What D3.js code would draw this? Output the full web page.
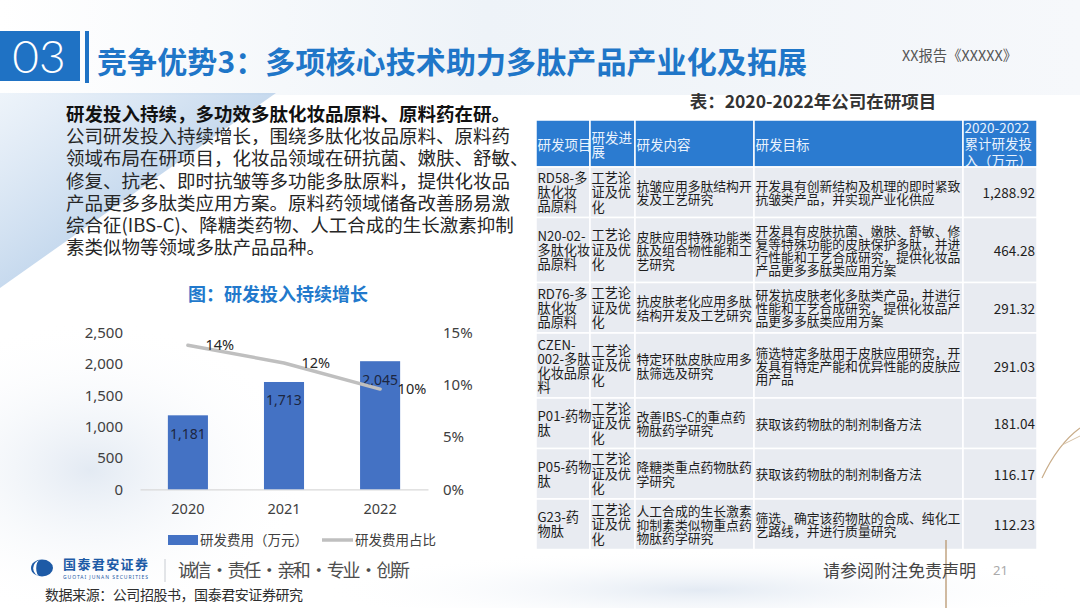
<!DOCTYPE html>
<html><head><meta charset="utf-8">
<script src="https://cdn.jsdelivr.net/npm/d3@7"></script>
<style>
html,body{margin:0;padding:0;background:#fff;}
svg{display:block;font-family:"Noto Sans CJK SC","Noto Sans",sans-serif;}
.cell{display:flex;align-items:center;width:100%;height:100%;box-sizing:border-box;white-space:pre;font-family:"Noto Sans CJK SC","Noto Sans",sans-serif;}
.para{font-family:"Noto Sans CJK SC","Noto Sans",sans-serif;white-space:pre;color:#262626;}
.para::first-line{font-weight:bold;color:#111;}
</style></head><body>
<svg id="c" width="1080" height="608"></svg>
<script>
// ---------- data ----------
const years = ["2020", "2021", "2022"];
const rdExpense = [1181, 1713, 2045];          // 研发费用（万元）
const rdRatio = [0.138, 0.121, 0.096];          // 研发费用占比
const leftTicks = [0, 500, 1000, 1500, 2000, 2500];
const rightTicks = [0, 0.05, 0.10, 0.15];
const legendLabels = ["研发费用（万元）", "研发费用占比"];

const tableHeader = ["研发项目", "研发进\n展", "研发内容", "研发目标", "2020-2022\n累计研发投\n入（万元）"];
const projects = ["RD58-多\n肽化妆\n品原料", "N20-02-\n多肽化妆\n品原料", "RD76-多\n肽化妆\n品原料", "CZEN-\n002-多肽\n化妆品原\n料", "P01-药物\n肽", "P05-药物\n肽", "G23-药\n物肽"];
const progress = ["工艺论\n证及优\n化", "工艺论\n证及优\n化", "工艺论\n证及优\n化", "工艺论\n证及优\n化", "工艺论\n证及优\n化", "工艺论\n证及优\n化", "工艺论\n证及优\n化"];
const contents = ["抗皱应用多肽结构开\n发及工艺研究", "皮肤应用特殊功能类\n肽及组合物性能和工\n艺研究", "抗皮肤老化应用多肽\n结构开发及工艺研究", "特定环肽皮肤应用多\n肽筛选及研究", "改善IBS-C的重点药\n物肽药学研究", "降糖类重点药物肽药\n学研究", "人工合成的生长激素\n抑制素类似物重点药\n物肽药学研究"];
const goals = ["开发具有创新结构及机理的即时紧致\n抗皱类产品，并实现产业化供应", "开发具有皮肤抗菌、嫩肤、舒敏、修\n复等特殊功能的皮肤保护多肽，并进\n行性能和工艺合成研究，提供化妆品\n产品更多多肽类应用方案", "研发抗皮肤老化多肽类产品，并进行\n性能和工艺合成研究，提供化妆品产\n品更多多肽类应用方案", "筛选特定多肽用于皮肤应用研究，开\n发具有特定产能和优异性能的皮肤应\n用产品", "获取该药物肽的制剂制备方法", "获取该药物肽的制剂制备方法", "筛选、确定该药物肽的合成、纯化工\n艺路线，并进行质量研究"];
const investments = [1288.92, 464.28, 291.32, 291.03, 181.04, 116.17, 112.23];

const paragraphBold = "研发投入持续，多功效多肽化妆品原料、原料药在研。";
const paragraphBody = "公司研发投入持续增长，围绕多肽化妆品原料、原料药\n领域布局在研项目，化妆品领域在研抗菌、嫩肤、舒敏、\n修复、抗老、即时抗皱等多功能多肽原料，提供化妆品\n产品更多多肽类应用方案。原料药领域储备改善肠易激\n综合征(IBS-C)、降糖类药物、人工合成的生长激素抑制\n素类似物等领域多肽产品品种。";

// ---------- drawing ----------
const svg = d3.select("#c");
const defs = svg.append("defs");

const g1 = defs.append("linearGradient").attr("id", "hdr").attr("x1", 0).attr("y1", 0).attr("x2", 1).attr("y2", 0);
g1.append("stop").attr("offset", "0%").attr("stop-color", "#ffffff");
g1.append("stop").attr("offset", "45%").attr("stop-color", "#eef3f8");
g1.append("stop").attr("offset", "100%").attr("stop-color", "#f6f8fb");

const g2 = defs.append("linearGradient").attr("id", "diag").attr("x1", 0).attr("y1", 0).attr("x2", 1).attr("y2", 1);
g2.append("stop").attr("offset", "0%").attr("stop-color", "#dce8f5").attr("stop-opacity", 0.5);
g2.append("stop").attr("offset", "100%").attr("stop-color", "#6f9fd3").attr("stop-opacity", 0.75);

const g3 = defs.append("radialGradient").attr("id", "haze").attr("cx", 0.5).attr("cy", 0.5).attr("r", 0.5);
g3.append("stop").attr("offset", "0%").attr("stop-color", "#e3eaf3");
g3.append("stop").attr("offset", "100%").attr("stop-color", "#ffffff").attr("stop-opacity", 0);

svg.append("rect").attr("width", 1080).attr("height", 608).attr("fill", "#ffffff");
svg.append("rect").attr("width", 1080).attr("height", 95).attr("fill", "url(#hdr)");
svg.append("ellipse").attr("cx", 90).attr("cy", 470).attr("rx", 220).attr("ry", 150).attr("fill", "url(#haze)");
svg.append("ellipse").attr("cx", 700).attr("cy", 590).attr("rx", 380).attr("ry", 40).attr("fill", "url(#haze)");
svg.append("polygon").attr("points", "0,93 276,93 0,288").attr("fill", "url(#diag)");

// header
svg.append("rect").attr("x", 0).attr("y", 31).attr("width", 80).attr("height", 50).attr("fill", "#1f72c4");
svg.append("text").attr("x", 39).attr("y", 56).attr("dy", "0.36em").attr("text-anchor", "middle")
  .attr("font-family", "Lato, 'Noto Sans', sans-serif").attr("font-weight", 300).attr("font-size", 46).attr("fill", "#fff").text("03");
svg.append("rect").attr("x", 85).attr("y", 31).attr("width", 4).attr("height", 52).attr("fill", "#1f72c4");
svg.append("text").attr("x", 97).attr("y", 62).attr("dy", "0.36em").attr("font-size", 30).attr("font-weight", "bold")
  .attr("fill", "#1f76c8").attr("textLength", 710).attr("lengthAdjust", "spacing").text("竞争优势3：多项核心技术助力多肽产品产业化及拓展");
svg.append("text").attr("x", 902).attr("y", 56).attr("dy", "0.35em").attr("font-size", 14.5).attr("fill", "#555")
  .attr("textLength", 115).attr("lengthAdjust", "spacingAndGlyphs").text("XX报告《XXXXX》");

// paragraph: one text block, first line bold via ::first-line
const pf = svg.append("foreignObject").attr("x", 66).attr("y", 102).attr("width", 475).attr("height", 160);
pf.append("xhtml:div").attr("class", "para").style("font-size", "18.5px").style("line-height", "22.2px")
  .text(paragraphBold + "\n" + paragraphBody);

// chart title
svg.append("text").attr("x", 278).attr("y", 295).attr("dy", "0.36em").attr("text-anchor", "middle")
  .attr("font-size", 18).attr("font-weight", "bold").attr("fill", "#2279cc").text("图：研发投入持续增长");

// scales
const x = d3.scaleBand().domain(years).range([140, 428]).paddingInner(0.583).paddingOuter(0.29);
const yL = d3.scaleLinear().domain([0, 2500]).range([489.3, 332.7]);
const yR = d3.scaleLinear().domain([0, 0.15]).range([489.3, 332.7]);

const axL = svg.append("g").attr("transform", "translate(126,0)")
  .call(d3.axisLeft(yL).tickValues(leftTicks).tickFormat(d3.format(",")).tickSize(0).tickPadding(3));
const axR = svg.append("g").attr("transform", "translate(440,0)")
  .call(d3.axisRight(yR).tickValues(rightTicks).tickFormat(d3.format(".0%")).tickSize(0).tickPadding(3));
const axB = svg.append("g").attr("transform", `translate(0,${yL(0)})`)
  .call(d3.axisBottom(x).tickSize(0).tickSizeOuter(0).tickPadding(14.5));
[axL, axR].forEach(a => a.select(".domain").remove());
axB.select(".domain").attr("stroke", "#d9d9d9").attr("stroke-width", 1.2);
[axL, axR, axB].forEach(a => a.selectAll("text").attr("font-size", 15).attr("fill", "#404040")
  .attr("font-family", "'Noto Sans','Noto Sans CJK SC',sans-serif"));
axB.selectAll("text").attr("font-size", 14.5);

const data = years.map((y, i) => ({ year: y, v: rdExpense[i], r: rdRatio[i] }));

svg.append("g").selectAll("rect").data(data).join("rect")
  .attr("x", d => x(d.year)).attr("width", x.bandwidth())
  .attr("y", d => yL(d.v)).attr("height", d => yL(0) - yL(d.v)).attr("fill", "#4472c4");

svg.append("g").selectAll("text").data(data).join("text")
  .attr("x", d => x(d.year) + x.bandwidth() / 2).attr("y", d => yL(d.v) + 18.5).attr("dy", "0.35em")
  .attr("text-anchor", "middle").attr("font-size", 14).attr("fill", "#1c2640")
  .attr("font-family", "'Noto Sans',sans-serif").text(d => d3.format(",")(d.v));

const line = d3.line().x(d => x(d.year) + x.bandwidth() / 2).y(d => yR(d.r));
svg.append("path").datum(data).attr("d", line).attr("fill", "none").attr("stroke", "#bfbfbf")
  .attr("stroke-width", 3.5).attr("stroke-linecap", "round").attr("stroke-linejoin", "round");

svg.append("g").selectAll("text").data(data).join("text")
  .attr("x", d => x(d.year) + x.bandwidth() / 2 + 17.5).attr("y", d => yR(d.r)).attr("dy", "0.35em")
  .attr("font-size", 14.5).attr("fill", "#262626").attr("font-family", "'Noto Sans',sans-serif")
  .text(d => d3.format(".0%")(d.r));

// legend
svg.append("rect").attr("x", 168).attr("y", 535).attr("width", 30).attr("height", 10).attr("fill", "#4472c4");
svg.append("text").attr("x", 200).attr("y", 540.5).attr("dy", "0.36em").attr("font-size", 13.5).attr("fill", "#404040").text(legendLabels[0]);
svg.append("line").attr("x1", 322).attr("x2", 353).attr("y1", 540).attr("y2", 540).attr("stroke", "#bfbfbf").attr("stroke-width", 3.5);
svg.append("text").attr("x", 355).attr("y", 540.5).attr("dy", "0.36em").attr("font-size", 13.5).attr("fill", "#404040").text(legendLabels[1]);

// table
svg.append("text").attr("x", 813).attr("y", 102).attr("dy", "0.36em").attr("text-anchor", "middle")
  .attr("font-size", 17.5).attr("font-weight", "bold").attr("fill", "#333").text("表：2020-2022年公司在研项目");

const colX = [536, 590, 635, 754, 963, 1037];
const tTop = 120, headH = 47;
const tbl = svg.append("g");

// each cell's text is one HTML text block
function cellText(txt, j, y0, h, size, lh, color, rightAlign) {
  const fo = tbl.append("foreignObject").attr("x", colX[j]).attr("y", y0)
    .attr("width", colX[j + 1] - colX[j] + 6).attr("height", h);
  fo.append("xhtml:div").attr("class", "cell")
    .style("width", (colX[j + 1] - colX[j]) + "px")
    .style("font-size", size + "px").style("line-height", lh + "px").style("color", color)
    .style("padding-left", rightAlign ? "0" : "1.5px").style("padding-right", rightAlign ? "2px" : "0")
    .style("justify-content", rightAlign ? "flex-end" : "flex-start")
    .text(txt);
}

tableHeader.forEach((h, j) => {
  tbl.append("rect").attr("x", colX[j]).attr("y", tTop).attr("width", colX[j + 1] - colX[j]).attr("height", headH)
    .attr("fill", "#2b7bd0").attr("stroke", "#fff").attr("stroke-width", 1.5);
});
tableHeader.forEach((h, j) => cellText(h, j, tTop, headH, 13.5, j === 4 ? 16.5 : 14, "#e9f2fd", false));

const rows = projects.map((p, i) => [p, progress[i], contents[i], goals[i], d3.format(",.2f")(investments[i])]);
const sizes = [13.2, 13.2, 12.8, 12.8, 13.5];
const lhs = [14, 14.5, 13.5, 13, 14];
let ry = tTop + headH;
rows.forEach(r => {
  const n = d3.max(r, c => c.split("\n").length);
  const h = n * 14.5 + 7;
  r.forEach((c, j) => {
    tbl.append("rect").attr("x", colX[j]).attr("y", ry).attr("width", colX[j + 1] - colX[j]).attr("height", h)
      .attr("fill", "#e8ebf1").attr("stroke", "#fff").attr("stroke-width", 1.5);
  });
  r.forEach((c, j) => cellText(c, j, ry, h, sizes[j], lhs[j], "#1e1e1e", j === 4));
  ry += h;
});

// decorations
svg.append("path").attr("d", "M1042,478 Q1058,444 1080,428").attr("fill", "none").attr("stroke", "#c9ad8a").attr("stroke-width", 1.2);
svg.append("path").attr("d", "M1062,445 L1080,436").attr("fill", "none").attr("stroke", "#d6c1a6").attr("stroke-width", 1);
svg.append("line").attr("x1", 946).attr("x2", 946).attr("y1", 540).attr("y2", 608).attr("stroke", "#b9976f").attr("stroke-width", 1.3);

// footer
svg.append("ellipse").attr("cx", 42).attr("cy", 568).attr("rx", 11).attr("ry", 8.5).attr("fill", "#1d5aa6");
svg.append("path").attr("d", "M40,560 A9,8.5 0 0 0 40,576.5 A5,8.5 0 0 1 40,560 Z").attr("fill", "#fff");
svg.append("text").attr("x", 63).attr("y", 564.5).attr("dy", "0.36em").attr("font-size", 13).attr("font-weight", "bold")
  .attr("fill", "#1d5aa6").attr("textLength", 85).text("国泰君安证券");
svg.append("text").attr("x", 63).attr("y", 577).attr("dy", "0.36em").attr("font-size", 5).attr("fill", "#1d5aa6")
  .attr("textLength", 85).attr("font-family", "'Noto Sans',sans-serif").text("GUOTAI JUNAN SECURITIES");
svg.append("line").attr("x1", 165).attr("x2", 165).attr("y1", 559).attr("y2", 582).attr("stroke", "#c8ccd2").attr("stroke-width", 1);
svg.append("text").attr("x", 178).attr("y", 570.5).attr("dy", "0.36em").attr("font-size", 18).attr("fill", "#4d4d4d")
  .attr("textLength", 232).text("诚信 · 责任 · 亲和 · 专业 · 创新");
svg.append("text").attr("x", 45).attr("y", 595).attr("dy", "0.36em").attr("font-size", 14).attr("fill", "#2e2e2e")
  .attr("textLength", 258).text("数据来源：公司招股书，国泰君安证券研究");
svg.append("text").attr("x", 823).attr("y", 570.5).attr("dy", "0.36em").attr("font-size", 17).attr("fill", "#444")
  .text("请参阅附注免责声明");
svg.append("text").attr("x", 993).attr("y", 570.5).attr("dy", "0.36em").attr("font-size", 13).attr("fill", "#aaa")
  .attr("font-family", "'Noto Sans',sans-serif").text("21");
</script>
</body></html>
